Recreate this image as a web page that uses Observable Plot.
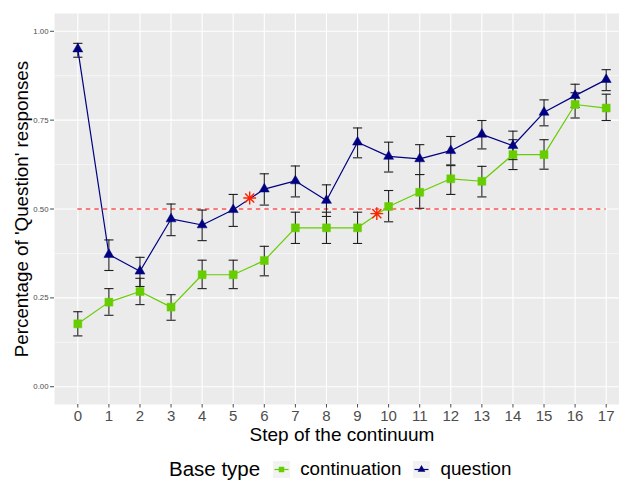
<!DOCTYPE html>
<html>
<head>
<meta charset="utf-8">
<script src="https://cdn.jsdelivr.net/npm/d3@7"></script>
<script src="https://cdn.jsdelivr.net/npm/@observablehq/plot@0.6"></script>
<style>
  html, body { margin: 0; padding: 0; background: #fff; }
  #wrap { position: relative; width: 619px; height: 480px; overflow: hidden; font-family: "Liberation Sans", Arial, sans-serif; }
  #chart svg { max-width: none !important; }
  #legend { position: absolute; left: 169px; top: 458px; height: 22px; display: flex; align-items: center; white-space: nowrap; color: #000; }
  #legend .title { font-size: 20.5px; margin-right: 13px; }
  #legend .lab { font-size: 18.8px; margin-left: 10px; margin-right: 12px; }
  #legend svg { display: block; }
</style>
</head>
<body>
<div id="wrap"><div id="chart"></div><div id="legend"></div></div>
<script>
// ---- data ----
const steps = [0,1,2,3,4,5,6,7,8,9,10,11,12,13,14,15,16,17];
const types = ["continuation", "question"];
const typeColors = ["#66CD00", "#000080"];

const contMean = [0.177,0.238,0.268,0.224,0.315,0.315,0.355,0.447,0.447,0.447,0.507,0.547,0.585,0.578,0.653,0.653,0.794,0.784];
const contLo   = [0.143,0.201,0.231,0.187,0.276,0.276,0.312,0.403,0.403,0.403,0.464,0.502,0.541,0.534,0.611,0.612,0.756,0.749];
const contHi   = [0.211,0.276,0.305,0.259,0.356,0.356,0.395,0.491,0.491,0.491,0.552,0.597,0.622,0.620,0.695,0.695,0.827,0.823];

const qMean = [0.950,0.372,0.325,0.472,0.455,0.498,0.556,0.579,0.524,0.688,0.648,0.641,0.664,0.710,0.678,0.772,0.819,0.864];
const qLo   = [0.927,0.327,0.282,0.425,0.411,0.451,0.511,0.534,0.479,0.644,0.604,0.597,0.624,0.669,0.639,0.734,0.786,0.833];
const qHi   = [0.966,0.413,0.364,0.514,0.497,0.541,0.599,0.621,0.568,0.728,0.688,0.681,0.704,0.749,0.719,0.807,0.851,0.892];

const crossX = [5.53, 9.62];
const crossY = [0.531, 0.487];

const threshold = 0.5;
const thresholdFrom = 0;
const thresholdTo = 17;

const yTicks = [0, 0.25, 0.5, 0.75, 1];
const yMinor = [0.125, 0.375, 0.625, 0.875];

const xTitle = "Step of the continuum";
const yTitle = "Percentage of 'Question' responses";
const legendTitle = "Base type";

// ---- build table ----
const rows = [];
steps.forEach((s, i) => {
  rows.push({step: s, type: types[0], mean: contMean[i], lo: contLo[i], hi: contHi[i]});
});
steps.forEach((s, i) => {
  rows.push({step: s, type: types[1], mean: qMean[i], lo: qLo[i], hi: qHi[i]});
});
const crosses = crossX.map((x, i) => ({x, y: crossY[i]}));

// custom symbols
const capSymbol = {
  draw(ctx, size) {
    const r = Math.sqrt(size / Math.PI);
    ctx.moveTo(-r, 0); ctx.lineTo(r, 0);
  }
};
const starSymbol = {
  draw(ctx, size) {
    const r = Math.sqrt(size / Math.PI);
    const d = r * Math.SQRT1_2;
    ctx.moveTo(-r, 0); ctx.lineTo(r, 0);
    ctx.moveTo(0, -r); ctx.lineTo(0, r);
    ctx.moveTo(-d, -d); ctx.lineTo(d, d);
    ctx.moveTo(-d, d); ctx.lineTo(d, -d);
  }
};

const font = "'Liberation Sans', Arial, sans-serif";

const chart = Plot.plot({
  width: 629,
  height: 450,
  marginLeft: 54,
  marginRight: 0,
  marginTop: 13,
  marginBottom: 46,
  style: {fontFamily: font, background: "white", overflow: "visible", maxWidth: "none"},
  x: {domain: [-0.75, 17.75]},
  y: {domain: [-0.05, 1.05]},
  color: {domain: types, range: typeColors},
  marks: [
    Plot.frame({fill: "#EBEBEB", stroke: "none"}),
    Plot.ruleY(yMinor, {stroke: "white", strokeWidth: 0.55}),
    Plot.ruleY(yTicks, {stroke: "white", strokeWidth: 1.1}),
    Plot.ruleX(steps, {stroke: "white", strokeWidth: 1.1}),
    Plot.axisY({ticks: yTicks, tickFormat: d3.format(".2f"), tickSize: 4, tickPadding: 2, fontSize: 7.8, color: "#4D4D4D", label: null}),
    Plot.axisX({ticks: steps, tickFormat: d3.format("d"), tickSize: 3.5, tickPadding: 2.5, fontSize: 15, color: "#4D4D4D", label: null}),
    Plot.ruleY([threshold], {x1: thresholdFrom, x2: thresholdTo, stroke: "#FF0000", strokeWidth: 1.2, strokeDasharray: "4.5,4"}),
    // error bars
    Plot.ruleX(rows, {x: "step", y1: "lo", y2: "hi", stroke: "#1f1f1f", strokeWidth: 1.1}),
    Plot.dot(rows, {x: "step", y: "lo", symbol: capSymbol, r: 4.6, stroke: "#1f1f1f", fill: "none", strokeWidth: 1.1}),
    Plot.dot(rows, {x: "step", y: "hi", symbol: capSymbol, r: 4.6, stroke: "#1f1f1f", fill: "none", strokeWidth: 1.1}),
    // lines
    Plot.line(rows, {x: "step", y: "mean", z: "type", stroke: "type", strokeWidth: 1.2}),
    // points
    Plot.dot(rows.filter(d => d.type === types[0]), {x: "step", y: "mean", symbol: "square", r: 4.5, fill: "type", stroke: "type", strokeWidth: 0.5}),
    Plot.dot(rows.filter(d => d.type === types[1]), {x: "step", y: "mean", symbol: "triangle", r: 3.7, fill: "type", stroke: "type", strokeWidth: 0.5}),
    // crossover points
    Plot.dot(crosses, {x: "x", y: "y", symbol: starSymbol, r: 6.4, stroke: "#FF2200", fill: "none", strokeWidth: 1.4}),
    // axis titles
    Plot.text([xTitle], {text: d => d, frameAnchor: "bottom", lineAnchor: "middle", textAnchor: "middle", dy: 30, fontSize: 19, fill: "black"}),
    Plot.text([yTitle], {text: d => d, frameAnchor: "left", lineAnchor: "middle", textAnchor: "middle", dx: -33, rotate: -90, fontSize: 18.8, fill: "black"})
  ]
});
document.getElementById("chart").appendChild(chart);

// ---- legend ----
function keySvg(color, shape) {
  const ns = "http://www.w3.org/2000/svg";
  const svg = document.createElementNS(ns, "svg");
  svg.setAttribute("width", 17); svg.setAttribute("height", 17);
  const rect = document.createElementNS(ns, "rect");
  rect.setAttribute("width", 17); rect.setAttribute("height", 17); rect.setAttribute("fill", "#F2F2F2");
  svg.appendChild(rect);
  const line = document.createElementNS(ns, "line");
  line.setAttribute("x1", 1.5); line.setAttribute("x2", 15.5); line.setAttribute("y1", 8.5); line.setAttribute("y2", 8.5);
  line.setAttribute("stroke", color); line.setAttribute("stroke-width", 1.2);
  svg.appendChild(line);
  const p = document.createElementNS(ns, "path");
  const sym = shape === "square" ? d3.symbolSquare : d3.symbolTriangle;
  p.setAttribute("d", d3.symbol(sym, shape === "square" ? 30 : 26)());
  p.setAttribute("transform", "translate(8.5,8.5)");
  p.setAttribute("fill", color);
  svg.appendChild(p);
  return svg;
}
const legend = document.getElementById("legend");
const t = document.createElement("span"); t.className = "title"; t.textContent = legendTitle; legend.appendChild(t);
const shapes = ["square", "triangle"];
types.forEach((ty, i) => {
  legend.appendChild(keySvg(typeColors[i], shapes[i]));
  const l = document.createElement("span"); l.className = "lab"; l.textContent = ty; legend.appendChild(l);
});
</script>
</body>
</html>
